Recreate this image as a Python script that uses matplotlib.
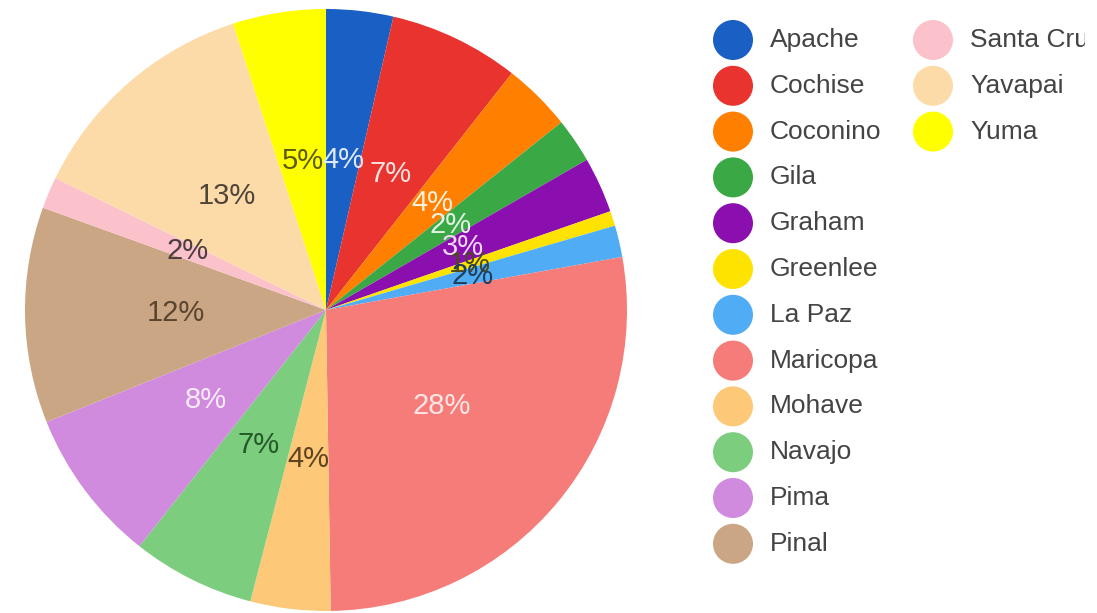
import matplotlib
matplotlib.use("Agg")
import matplotlib.pyplot as plt
from matplotlib.patches import Circle
import numpy as np

plt.rcParams['font.family'] = ['Liberation Sans', 'DejaVu Sans']

counties = ["Apache", "Cochise", "Coconino", "Gila", "Graham", "Greenlee", "La Paz",
            "Maricopa", "Mohave", "Navajo", "Pima", "Pinal", "Santa Cruz", "Yavapai", "Yuma"]
shares = [3.6, 7.0, 3.7, 2.4, 3.0, 0.8, 1.7, 27.6, 4.3, 6.6, 8.3, 11.6, 1.7, 12.8, 5.0]
labels = ["4%", "7%", "4%", "2%", "3%", "1%", "2%", "28%", "4%", "7%", "8%", "12%", "2%", "13%", "5%"]
colors = ["#1a5fc4", "#e8332e", "#ff8000", "#3aa845", "#8b0fae", "#ffe300", "#50acf5",
          "#f57c78", "#fdc878", "#7dcd7f", "#d08ade", "#caa685", "#fcc2cb", "#fddba8", "#ffff00"]
label_colors = ["#dfe8f7", "#fbe1e0", "#fff0dc", "#e2f3e4", "#f0d8f6", "#4a4a1a", "#1f3e5c",
                "#fde6e5", "#5e4420", "#245a28", "#f8ebfb", "#5a4530", "#4e3c40", "#50453a", "#5c5c10"]

W, H = 1097, 613
fig = plt.figure(figsize=(W / 100, H / 100), dpi=100)

cx, cy, R = 326, 310, 301
ax = fig.add_axes([(cx - R) / W, (H - cy - R) / H, 2 * R / W, 2 * R / H])
wedges, _ = ax.pie(shares, colors=colors, startangle=90, counterclock=False,
                   wedgeprops=dict(linewidth=0))
ax.set_xlim(-1, 1)
ax.set_ylim(-1, 1)
ax.set_aspect('equal')
ax.axis('off')

for w, lab, lc in zip(wedges, labels, label_colors):
    ang = np.deg2rad((w.theta1 + w.theta2) / 2)
    ax.text(0.5 * np.cos(ang), 0.5 * np.sin(ang), lab, ha='center', va='center',
            fontsize=21, color=lc)

# Legend drawn in pixel-coordinate axes
lx0, lx1 = 690, 1085
lax = fig.add_axes([lx0 / W, 0, (lx1 - lx0) / W, 1])
lax.set_xlim(lx0, lx1)
lax.set_ylim(H, 0)
lax.axis('off')
rows = 12
for i, (name, col) in enumerate(zip(counties, colors)):
    c, r = divmod(i, rows)
    x = 733 + c * 200
    y = 40 + r * 45.8
    lax.add_patch(Circle((x, y), 20, color=col, lw=0))
    lax.text(x + 37, y, name, ha='left', va='center',
             fontsize=19, color='#444444', clip_on=True)

fig.savefig("out.png", dpi=100, facecolor='white')
